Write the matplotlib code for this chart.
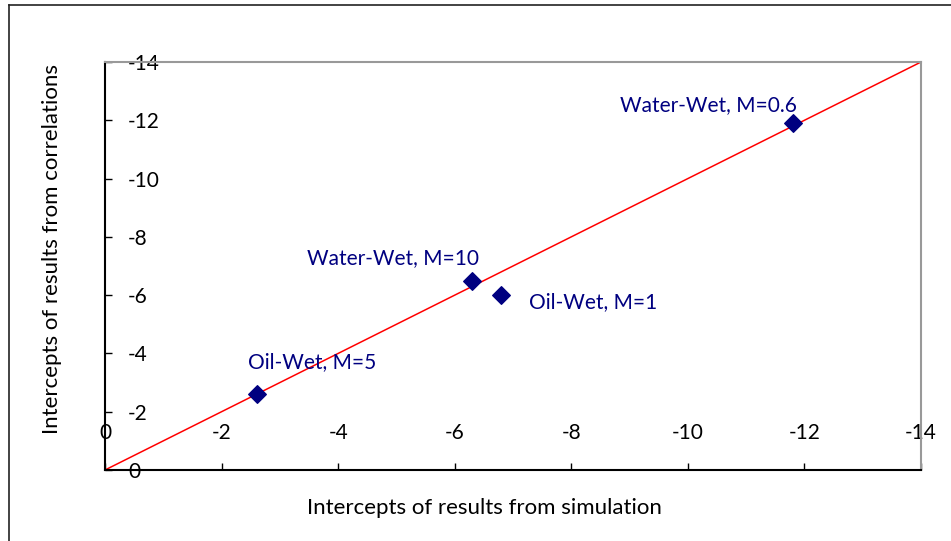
import matplotlib.pyplot as plt
from matplotlib.lines import Line2D

plt.rcParams['font.family'] = ['Lato', 'DejaVu Sans']

# intercepts: simulation (x) vs correlations (y)
names = ["Water-Wet, M=0.6", "Water-Wet, M=10", "Oil-Wet, M=1", "Oil-Wet, M=5"]
sim = [-11.8, -6.3, -6.8, -2.6]
corr = [-11.9, -6.5, -6.0, -2.6]
# label offsets in points from each marker
offsets = [(-61, 13), (-57, 16), (66, -5), (40, 23)]
ticks = [0, -2, -4, -6, -8, -10, -12, -14]
line_x = [0, -14]
line_y = [0, -14]

fig = plt.figure(figsize=(9.51, 5.41), dpi=100)
ax = fig.add_axes([105/951, 1-470/541, 816/951, 408/541])

ax.plot(line_x, line_y, color='#ff0000', lw=1.1, zorder=2)
ax.scatter(sim, corr, marker='D', s=80, color='#000080', zorder=3)

for n, x, y, off in zip(names, sim, corr, offsets):
    ax.annotate(n, (x, y), xytext=off, textcoords='offset points',
                ha='center', va='center', color='#000080', fontsize=15)

ax.set_xlim(0, -14)
ax.set_ylim(0, -14)
ax.set_xticks(ticks)
ax.set_yticks(ticks)
ax.set_xticklabels([str(t) for t in ticks], fontsize=15)
ax.set_yticklabels([str(t) for t in ticks], fontsize=15, ha='left')
ax.tick_params(axis='both', direction='in', length=5, width=1, color='black')
ax.tick_params(axis='y', pad=-16.5)
ax.tick_params(axis='x', pad=-34)

for s in ['top', 'right']:
    ax.spines[s].set_color('#999999')
    ax.spines[s].set_linewidth(1.5)
for s in ['left', 'bottom']:
    ax.spines[s].set_color('black')
    ax.spines[s].set_linewidth(1.5)

fig.text(484/951, 1-508/541, "Intercepts of results from simulation",
         ha='center', va='center', fontsize=16)
fig.text(52/951, 1-249/541, "Intercepts of results from correlations",
         ha='center', va='center', rotation=90, fontsize=16)

# outer chart frame (left and top edges)
fig.add_artist(Line2D([9/951, 9/951], [0, 1-5/541], color='#222222', lw=1.2))
fig.add_artist(Line2D([9/951, 1], [1-5/541, 1-5/541], color='#222222', lw=1.2))

fig.savefig('out.png', dpi=100)
